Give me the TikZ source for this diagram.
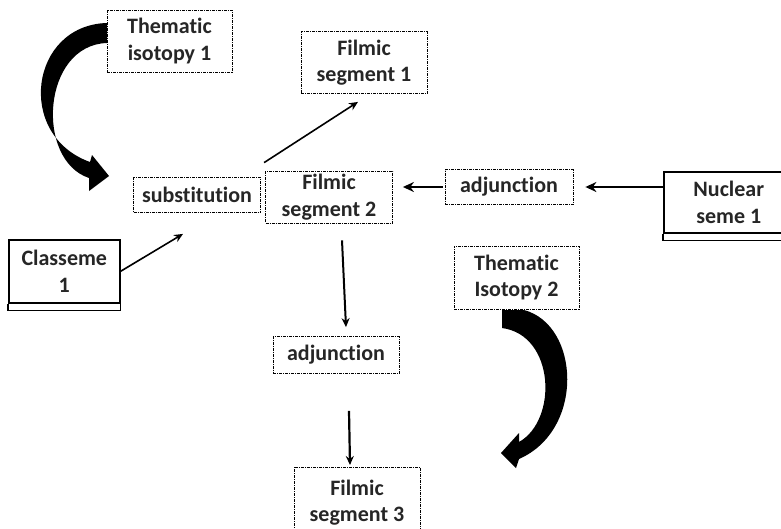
\documentclass[tikz,border=0pt]{standalone}
\usepackage{fontspec}
\setmainfont{Carlito}[Ligatures=NoCommon]
\usetikzlibrary{arrows.meta,calc}
\newcommand{\boxfont}{\fontsize{22}{26.5}\selectfont\bfseries}
\begin{document}
\begin{tikzpicture}[x=1pt,y=-1pt,
  dbox/.style={draw, dash pattern=on 3pt off 1pt on 1pt off 1pt, line width=0.8pt,
    align=center, inner sep=0pt, font=\boxfont, text=black!85},
  sbox/.style={draw, line width=1.6pt, align=center, inner sep=0pt, font=\boxfont, text=black!85},
  arr/.style={-{Stealth[length=9pt,width=8pt]}, line width=1.6pt},
  harr/.style={-{Stealth[length=11pt,width=10pt]}, line width=2.6pt},
  blockarrow/.style={fill=black, draw=none}]
\useasboundingbox (0,0) rectangle (781,528);
\clip (0,0) rectangle (781,528);
\fill[white] (0,0) rectangle (781,528);

\node[dbox, minimum width=125pt, minimum height=62pt] (ti1) at (169.5,41) {Thematic\\isotopy 1};
\node[dbox, minimum width=126pt, minimum height=62pt] (fs1) at (364,62.5) {Filmic\\segment 1};
\node[dbox, minimum width=127pt, minimum height=52pt] (fs2) at (329,197) {Filmic\\segment 2};
\node[dbox, minimum width=127pt, minimum height=35pt] (sub) at (197,195) {substitution};
\node[dbox, minimum width=128pt, minimum height=35pt] (adjr) at (509,187) {adjunction};
\node[dbox, minimum width=125pt, minimum height=63pt] (ti2) at (516.5,277.5) {Thematic\\Isotopy 2};
\node[dbox, minimum width=126pt, minimum height=37pt] (adjb) at (336,355) {adjunction};
\node[dbox, minimum width=126pt, minimum height=70pt, anchor=north] (fs3) at (357,467) {Filmic\\segment 3};

\node[sbox, minimum width=111pt, minimum height=63pt, anchor=north west] (cl) at (8,239) {Classeme\\1};
\draw[line width=1.6pt] (cl.south west) -- ++(0,7) -- ($(cl.south east)+(0,7)$) -- (cl.south east);
\node[sbox, minimum width=130pt, minimum height=61pt, anchor=north west] (ns) at (663,171) {Nuclear\\seme 1};
\draw[line width=1.6pt] (ns.south west) -- ++(0,7) -- ($(ns.south east)+(0,7)$);

\draw[arr] ($(fs2.north west)+(-1,-8)$) -- ($(fs1.south)+(-6,8)$);
\draw[arr] (cl.east) -- ($(sub.south)+(-14,21)$);
\draw[harr] ($(adjr.west)+(-2,0)$) -- ($(fs2.east |- adjr.west)+(10,0)$);
\draw[harr] (ns.west |- adjr.east) -- ($(adjr.east)+(12,0)$);
\draw[arr, line width=2pt] ($(fs2.south)+(13,17)$) -- ($(adjb.north)+(10,-9)$);
\draw[arr, line width=2.2pt] ($(adjb.south)+(13,37)$) -- ($(fs3.north)+(-7,-2)$);

% curved block arrows
\fill[blockarrow] (107,23) .. controls (30,25) and (15,135) .. (90,162) -- (92,155) -- (109,176)
  -- (89,191) -- (89,178) .. controls (35,160) and (42,45) .. (107,43) -- cycle;
\fill[blockarrow] (502,310) -- (524,310) .. controls (580,325) and (585,430) .. (519,459)
  -- (516,468) -- (501,453) -- (519,433) -- (519,442) .. controls (558,420) and (555,335) .. (502,328) -- cycle;
\end{tikzpicture}
\end{document}
